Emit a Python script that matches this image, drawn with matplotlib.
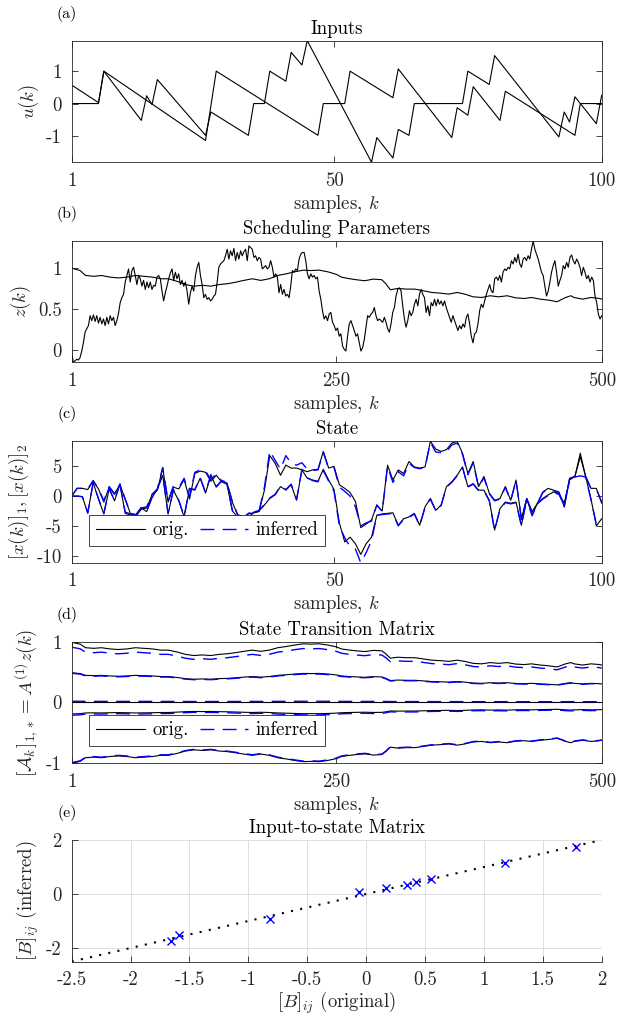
import numpy as np
import matplotlib
matplotlib.use('Agg')
import matplotlib.pyplot as plt

plt.rcParams['font.family'] = 'serif'
plt.rcParams['font.serif'] = ['cmr10']
plt.rcParams['mathtext.fontset'] = 'cm'
plt.rcParams['axes.unicode_minus'] = False
plt.rcParams['axes.formatter.use_mathtext'] = True
FS = 13.5

# ---------------- (a) inputs (vertices of the piecewise-linear signals)
u1_k = [1, 6, 7, 14, 15, 16, 17, 26, 27, 34, 35, 37, 38, 41, 42, 44, 45, 57, 58, 61, 62, 64, 65,
        74, 75, 79, 80, 92, 93, 94, 95, 99, 100]
u1_v = [0.57, 0.03, 1.0, -0.52, 0.24, -0.03, 0.74, -0.98, -0.26, -0.98, 0, 0, 1.0, 0.69, 1.58, 1.19,
        1.94, -1.81, -1.05, -1.68, -0.8, -0.98, 0, 0, 1.0, 0.59, 1.48, -1.03, -0.26, -0.57, 0.21, -0.62, 0.26]
u2_k = [1, 6, 7, 26, 28, 47, 48, 52, 53, 61, 62, 72, 73, 75, 76, 81, 82, 95, 96, 100]
u2_v = [0, 0, 1.0, -1.14, 1.0, -0.98, 0, 0, 1.0, 0.18, 1.07, -1.05, -0.13, -0.36, 0.52, -0.52, 0.38,
        -0.98, 0, 0]

# ---------------- (b) scheduling parameters
z1_vals = [
    -0.02, -0.15, -0.13, -0.11, -0.12, -0.09, -0.01, 0.09, 0.22, 0.26,
    0.30, 0.42, 0.36, 0.43, 0.35, 0.42, 0.33, 0.40, 0.32, 0.38,
    0.30, 0.40, 0.32, 0.42, 0.36, 0.40, 0.30, 0.36, 0.45, 0.58,
    0.64, 0.68, 0.83, 0.91, 0.99, 0.83, 0.97, 1.01, 0.91, 0.80,
    0.91, 0.87, 0.78, 0.85, 0.74, 0.83, 0.76, 0.83, 0.74, 0.79,
    0.78, 0.89, 0.91, 0.87, 0.72, 0.60, 0.70, 0.78, 0.87, 0.94,
    0.99, 0.85, 0.95, 0.87, 0.93, 0.80, 0.85, 0.78, 0.83, 0.72,
    0.56, 0.70, 0.78, 0.72, 0.91, 1.01, 1.07, 0.91, 0.80, 0.64,
    0.68, 0.62, 0.64, 0.60, 0.62, 0.66, 0.68, 0.83, 1.01, 1.05,
    1.07, 1.09, 1.15, 1.23, 1.11, 1.21, 1.15, 1.24, 1.09, 1.19,
    1.11, 1.21, 1.15, 1.20, 1.23, 1.09, 1.27, 1.25, 1.23, 1.13,
    1.15, 1.09, 1.13, 1.11, 0.99, 1.01, 1.03, 0.99, 1.01, 1.09,
    1.01, 0.89, 0.93, 0.89, 0.70, 0.80, 0.68, 0.74, 0.66, 0.68,
    0.64, 0.78, 0.97, 0.95, 0.99, 0.97, 1.11, 1.17, 1.19, 1.19,
    1.09, 0.93, 0.87, 0.93, 0.89, 0.91, 0.87, 0.89, 0.72, 0.62,
    0.48, 0.38, 0.42, 0.36, 0.44,
    0.46, 0.34, 0.30, 0.24, 0.27, 0.17, 0.20, 0.05, 0.01, -0.01,
    0.17, 0.32, 0.36, 0.30, 0.24, 0.17, 0.20, 0.09, -0.01, 0.03,
    0.13, 0.28, 0.42, 0.40, 0.44, 0.46, 0.52, 0.42, 0.36, 0.38,
    0.36, 0.34, 0.40, 0.34, 0.26, 0.22, 0.32, 0.46, 0.52, 0.66,
    0.74, 0.76, 0.72, 0.54, 0.38, 0.28, 0.36, 0.48, 0.42, 0.46,
    0.56, 0.62, 0.54, 0.68, 0.74, 0.68, 0.64, 0.46, 0.54, 0.42,
    0.58, 0.54, 0.62, 0.54, 0.62, 0.56, 0.60, 0.54, 0.60, 0.52,
    0.46, 0.40, 0.34, 0.42, 0.36, 0.30, 0.24, 0.30, 0.26, 0.32,
    0.28, 0.40, 0.44, 0.32, 0.17, 0.09, 0.20, 0.22, 0.32, 0.48,
    0.56, 0.52, 0.60, 0.68, 0.74, 0.80, 0.72, 0.70, 0.87, 0.89,
    0.85, 0.91, 0.83, 0.95, 0.99, 0.97, 1.01, 0.99, 1.09, 1.05,
    1.13, 1.07, 1.17, 1.05, 1.01, 1.11, 1.13, 1.09, 1.15, 1.11,
    1.23, 1.33, 1.23, 1.17, 1.11, 1.03, 0.95, 0.91, 0.78, 0.66,
    0.72, 0.83, 0.95, 1.03, 1.09, 0.95, 0.78, 0.85, 0.91, 1.03,
    0.99, 1.07, 1.01, 1.13, 1.16, 1.09, 1.05, 1.11, 1.07, 1.01,
    0.91, 1.01, 0.95, 0.87, 0.91, 0.83, 0.89, 0.85, 0.66, 0.58,
    0.44, 0.38, 0.42]
z1_k = np.linspace(1, 500, len(z1_vals))

z2_k = [1, 9, 14, 22, 29, 37, 45, 53, 61, 69, 77, 85, 92, 100, 108, 116, 124, 132, 140, 148, 156, 163,
        171, 179, 187, 195, 203, 211, 219, 226, 234, 242, 250, 255, 261, 269, 277, 285, 293, 297, 301,
        308, 316, 324, 332, 340, 348, 356, 364, 371, 379, 387, 395, 403, 411, 419, 427, 434, 442, 450,
        458, 466, 471, 474, 482, 490, 498, 500]
z2_vals = [1.0, 0.97, 0.91, 0.90, 0.91, 0.89, 0.88, 0.89, 0.91, 0.90, 0.89, 0.87, 0.87, 0.84, 0.80, 0.78,
           0.79, 0.78, 0.80, 0.81, 0.83, 0.85, 0.87, 0.85, 0.87, 0.91, 0.93, 0.955, 0.975, 0.97, 0.975,
           0.955, 0.925, 0.89, 0.874, 0.858, 0.846, 0.866, 0.858, 0.805, 0.736, 0.752, 0.744, 0.744,
           0.724, 0.703, 0.695, 0.683, 0.703, 0.683, 0.65, 0.642, 0.663, 0.65, 0.663, 0.638, 0.63, 0.642,
           0.622, 0.61, 0.59, 0.642, 0.663, 0.642, 0.622, 0.642, 0.63, 0.622]

# ---------------- (c) states (k = 1..100)
k_c = np.arange(1, 101)
x1_orig = [0, 1.3, 1.3, 1.1, 2.5, 1.2, -1.0, 1.5, 0.3, 2.0,
           -2.9, -3.2, -3.4, -2.2, -2.0, 0.2, 1.0, 4.7, -1.0, 1.5,
           1.2, 2.8, -0.5, 3.8, 4.2, 4.0, 2.5, 3.5, 2.4, 2.0,
           -2.5, -3.5, -3.8, -3.0, -2.8, -2.6, 1.0, 6.8, 5.5, 3.5,
           5.2, 4.7, 4.7, 4.4, 4.1, 4.4, 4.5, 7.5, 4.7, 5.0,
           1.9, 1.3, 0.6, -0.9, -5.3, -4.7, -4.0, -1.5, -2.5, 5.2,
           2.7, 4.4, 3.8, 5.8, 4.9, 4.7, 4.9, 9.2, 7.9, 7.5,
           7.8, 8.9, 9.2, 7.2, 3.8, 5.8, 1.6, 3.3, 0.5, -0.7,
           -0.4, 1.6, -0.7, 2.7, -3.8, -0.4, -3.2, -1.2, 0.7, 1.3,
           1.0, 0.7, -1.8, 3.0, 3.3, 7.2, 3.3, 1.3, 1.3, -1.2]
x2_orig = [0, 0, -0.1, -2.9, 2.3, -0.5, -3.0, 1.2, -0.8, 2.0,
           -0.6, -3.0, -3.2, -2.0, -2.6, -0.3, 1.2, 3.5, -3.0, 1.0,
           -0.8, -3.5, 1.2, 1.0, 3.0, 0.5, 3.5, 1.5, 2.5, 2.2,
           -1.0, -3.2, -3.6, -3.5, -2.8, -2.5, -1.5, -0.4, 0.2, 1.6,
           1.0, 1.9, -0.7, 4.4, 3.0, 2.7, 2.5, 4.5, 2.7, 1.1,
           -4.5, -7.7, -6.9, -8.0, -9.8, -8.0, -6.9, -3.2, -3.0, -2.9,
           -2.8, -4.9, -3.8, -3.5, -2.9, -4.9, -1.8, -0.4, -2.4, -1.5,
           1.6, 2.4, 3.5, 4.9, 1.6, 2.1, 1.0, 1.0, -0.7, -5.7,
           -2.1, -1.0, -1.2, -1.0, -4.9, -0.4, -2.6, -1.2, -0.4, 0.2,
           0.7, 0.4, -1.2, 2.7, 3.3, 6.6, 3.3, -0.5, -5.0, -3.8]
x1_inf = [0, 1.3, 1.3, 1.2, 2.6, 1.3, -0.8, 1.6, 0.4, 2.1,
          -2.7, -3.0, -3.2, -2.0, -1.8, 0.3, 1.2, 4.8, -0.8, 1.7,
          1.4, 3.0, -0.2, 4.0, 4.4, 4.2, 2.8, 3.7, 2.6, 2.1,
          -2.3, -3.3, -3.7, -2.9, -2.6, -2.5, 1.5, 7.6, 6.0, 4.5,
          6.8, 5.5, 5.2, 5.6, 4.5, 4.3, 4.4, 7.3, 4.6, 4.8,
          1.5, 0.8, 0.0, -1.8, -5.0, -4.5, -4.2, -1.5, -2.6, 5.0,
          2.3, 4.1, 3.4, 5.5, 4.8, 4.6, 4.8, 9.0, 7.4, 7.3,
          7.4, 8.6, 8.9, 7.0, 3.6, 5.6, 1.5, 3.1, 0.4, -0.8,
          -0.5, 1.5, -0.8, 2.6, -3.9, -0.5, -3.3, -1.3, 0.6, 1.2,
          0.9, 0.6, -1.9, 2.9, 3.3, 3.4, 3.3, 1.2, 1.2, -1.0]
x2_inf = [0, 0, -0.1, -2.8, 2.2, -0.4, -2.9, 1.3, -0.7, 2.0,
          -0.5, -2.9, -3.1, -1.9, -2.5, -0.2, 1.2, 3.6, -2.9, 1.1,
          -0.7, -3.4, 1.3, 1.1, 3.1, 0.6, 3.6, 1.6, 2.6, 2.3,
          -0.9, -3.1, -3.5, -3.4, -2.7, -2.4, -1.4, -0.3, 0.3, 1.7,
          1.1, 2.0, -0.6, 4.5, 3.1, 2.6, 2.4, 4.3, 2.5, 0.8,
          -5.0, -7.0, -8.5, -8.9, -11.2, -9.5, -7.5, -3.2, -3.1, -3.0,
          -2.9, -5.0, -3.9, -3.6, -3.0, -5.0, -1.9, -0.5, -2.5, -1.6,
          1.5, 2.3, 3.4, 4.8, 1.5, 2.0, 0.9, 0.9, -0.8, -5.8,
          -2.2, -1.1, -1.3, -1.1, -5.0, -0.5, -2.7, -1.3, -0.5, 0.1,
          0.6, 0.3, -1.3, 2.6, 3.2, 3.4, 3.2, -0.6, -4.7, -4.8]

# ---------------- (d) state transition row: A^(1) coefficients
A1_orig = [0.99, 0.49, 0.0, -0.19, -1.0]
A1_inf = [0.91, 0.48, 0.02, -0.21, -0.99]

# ---------------- (e) input-to-state matrix
B_orig = [-1.66, -1.585, -0.82, -0.06, 0.165, 0.345, 0.425, 0.55, 1.18, 1.785]
B_inf = [-1.74, -1.52, -0.92, 0.06, 0.22, 0.35, 0.43, 0.57, 1.13, 1.75]
diag_line = [-2.5, 2.0]

# ---------------- figure
W, H = 631, 1017
fig = plt.figure(figsize=(W / 100, H / 100), dpi=100)
AXC = '#262626'
left = 71.7 / W
width = 530.0 / W
tops = [40.7, 241.0, 441.3, 641.7, 840.0]
hgt = 121.5 / H
axes = []
for t in tops:
    axes.append(fig.add_axes([left, 1 - (t / H) - hgt, width, hgt]))


def style(ax, box=True):
    for s in ax.spines.values():
        s.set_color(AXC)
        s.set_linewidth(0.6)
    ax.tick_params(direction='in', length=4, width=0.6, colors=AXC, labelsize=FS,
                   top=box, right=box, pad=7)


labels = ['(a)', '(b)', '(c)', '(d)', '(e)']
titles = ['Inputs', 'Scheduling Parameters', 'State', 'State Transition Matrix', 'Input-to-state Matrix']
for ax, lab, tit, t in zip(axes, labels, titles, tops):
    fig.text(67 / W, 1 - (t - 27) / H, lab, fontsize=11.5, ha='center', va='center', color='black')
    ax.set_title(tit, fontsize=FS, pad=5, color='black')

lw = 0.8
blue = '#0000ff'
dash = (10, 6)

legkw = dict(ncol=2, loc='lower left', fontsize=FS, frameon=True, fancybox=False,
             framealpha=1, edgecolor=AXC, handlelength=2.6, columnspacing=0.6,
             handletextpad=0.4, borderpad=0.35, borderaxespad=0)

# (a)
ax = axes[0]
ax.plot(u1_k, u1_v, color='black', lw=lw)
ax.plot(u2_k, u2_v, color='black', lw=lw)
ax.set_xlim(1, 100)
ax.set_ylim(min(min(u1_v), min(u2_v)), max(max(u1_v), max(u2_v)))
ax.set_xticks([1, 50, 100])
ax.set_xticklabels(['1', '50', '100'])
ax.set_yticks([-1, 0, 1])
ax.set_yticklabels(['-1', '0', '1'])
ax.set_ylabel(r'$u(k)$', fontsize=FS, color=AXC)

# (b)
ax = axes[1]
ax.plot(z1_k, z1_vals, color='black', lw=lw)
ax.plot(z2_k, z2_vals, color='black', lw=lw)
ax.set_xlim(1, 500)
ax.set_ylim(min(z1_vals), max(z1_vals))
ax.set_xticks([1, 250, 500])
ax.set_xticklabels(['1', '250', '500'])
ax.set_yticks([0, 0.5, 1])
ax.set_yticklabels(['0', '0.5', '1'])
ax.set_ylabel(r'$z(k)$', fontsize=FS, color=AXC)

# (c)
ax = axes[2]
lo, = ax.plot(k_c, x1_orig, color='black', lw=lw)
ax.plot(k_c, x2_orig, color='black', lw=lw)
li, = ax.plot(k_c, x1_inf, color=blue, lw=lw + 0.2, dashes=dash)
ax.plot(k_c, x2_inf, color=blue, lw=lw + 0.2, dashes=dash)
ax.set_xlim(1, 100)
allc = x1_orig + x2_orig + x1_inf + x2_inf
ax.set_ylim(min(allc), max(allc))
ax.set_xticks([1, 50, 100])
ax.set_xticklabels(['1', '50', '100'])
ax.set_yticks([-10, -5, 0, 5])
ax.set_yticklabels(['-10', '-5', '0', '5'])
ax.set_ylabel(r'$[x(k)]_1, [x(k)]_2$', fontsize=FS, color=AXC)
leg = ax.legend([lo, li], ['orig.', 'inferred'], bbox_to_anchor=(0.033, 0.14), **legkw)
leg.get_frame().set_linewidth(0.6)

# (d)
ax = axes[3]
z2a = np.array(z2_vals)
for c in A1_orig:
    lo, = ax.plot(z2_k, c * z2a, color='black', lw=lw)
for c in A1_inf:
    li, = ax.plot(z2_k, c * z2a, color=blue, lw=lw + 0.2, dashes=dash)
ax.set_xlim(1, 500)
ax.set_ylim(-1, 1)
ax.set_xticks([1, 250, 500])
ax.set_xticklabels(['1', '250', '500'])
ax.set_yticks([-1, 0, 1])
ax.set_yticklabels(['-1', '0', '1'])
ax.set_ylabel(r'$[\mathcal{A}_k]_{1,*} = A^{(1)}z(k)$', fontsize=FS, color=AXC)
leg = ax.legend([lo, li], ['orig.', 'inferred'], bbox_to_anchor=(0.033, 0.142), **legkw)
leg.get_frame().set_linewidth(0.6)

for ax in axes[:4]:
    style(ax)
    ax.set_xlabel(r'samples, $k$', fontsize=FS, color=AXC, labelpad=2)

# (e)
ax = axes[4]
ax.plot(diag_line, diag_line, color='black', lw=1.5, linestyle=(0, (1, 3.5)))
ax.plot(B_orig, B_inf, linestyle='none', marker='x', color=blue, ms=6, mew=1.0)
ax.set_xlim(-2.5, 2)
ax.set_ylim(-2.5, 2)
ax.set_xticks([-2.5, -2, -1.5, -1, -0.5, 0, 0.5, 1, 1.5, 2])
ax.set_xticklabels(['-2.5', '-2', '-1.5', '-1', '-0.5', '0', '0.5', '1', '1.5', '2'])
ax.set_yticks([-2, 0, 2])
ax.set_yticklabels(['-2', '0', '2'])
ax.grid(True, color='#dedede', lw=0.7)
ax.set_axisbelow(True)
style(ax, box=False)
ax.spines['top'].set_visible(False)
ax.spines['right'].set_visible(False)
ax.set_xlabel(r'$[B]_{ij}$ (original)', fontsize=FS, color=AXC, labelpad=0)
ax.set_ylabel(r'$[B]_{ij}$ (inferred)', fontsize=FS, color=AXC)

fig.savefig('out.png', dpi=100)
